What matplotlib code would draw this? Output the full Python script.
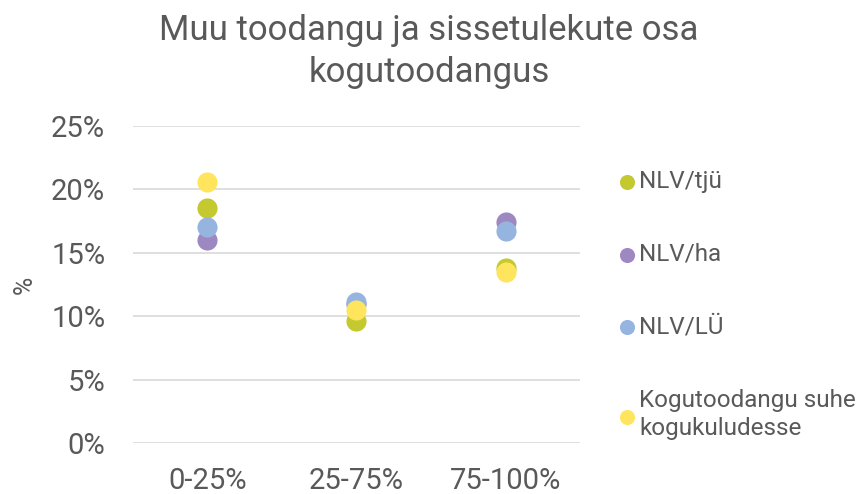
import matplotlib.pyplot as plt
from matplotlib.ticker import PercentFormatter

plt.rcParams['font.family'] = ['Roboto', 'DejaVu Sans']

categories = ["0-25%", "25-75%", "75-100%"]
series_names = ["NLV/tjü", "NLV/ha", "NLV/LÜ", "Kogutoodangu suhe\nkogukuludesse"]
nlv_tju = [18.5, 9.6, 13.8]
nlv_ha = [16.0, 11.0, 17.4]
nlv_lu = [17.0, 11.1, 16.7]
kogutoodang = [20.6, 10.5, 13.5]
colors = ["#C3C92E", "#9E88C2", "#95B4E0", "#FFE55E"]
y_ticks = [0, 5, 10, 15, 20, 25]

grey = "#595959"

fig = plt.figure(figsize=(8.58, 4.94), dpi=100)
ax = fig.add_axes([0.155, 0.103, 0.521, 0.642])

x = list(range(len(categories)))
for name, vals, c in zip(series_names, [nlv_tju, nlv_ha, nlv_lu, kogutoodang], colors):
    ax.scatter(x, vals, s=210, color=c, label=name, linewidths=0, zorder=3)

ax.set_xlim(-0.5, 2.5)
ax.set_ylim(0, 25)
ax.set_yticks(y_ticks)
ax.yaxis.set_major_formatter(PercentFormatter(decimals=0))
ax.set_xticks(x)
ax.set_xticklabels(categories)
ax.grid(axis='y', color='#D9D9D9', lw=1.2, zorder=0)
for s in ax.spines.values():
    s.set_visible(False)
ax.tick_params(length=0, labelsize=21, colors=grey)
ax.tick_params(axis='y', pad=20)
ax.tick_params(axis='x', pad=17)
ax.set_ylabel("%", fontsize=18, color=grey, labelpad=10)

fig.suptitle("Muu toodangu ja sissetulekute osa\nkogutoodangus", x=0.5, y=0.972,
             fontsize=25, color=grey, linespacing=1.35)

leg = fig.legend(loc='upper left', bbox_to_anchor=(0.677, 0.7), frameon=False,
                 fontsize=17.5, labelspacing=2.05, handletextpad=-0.5, markerscale=0.75,
                 labelcolor=grey)
for t in leg.get_texts():
    t.set_linespacing(1.3)

fig.savefig("out.png", dpi=100)
